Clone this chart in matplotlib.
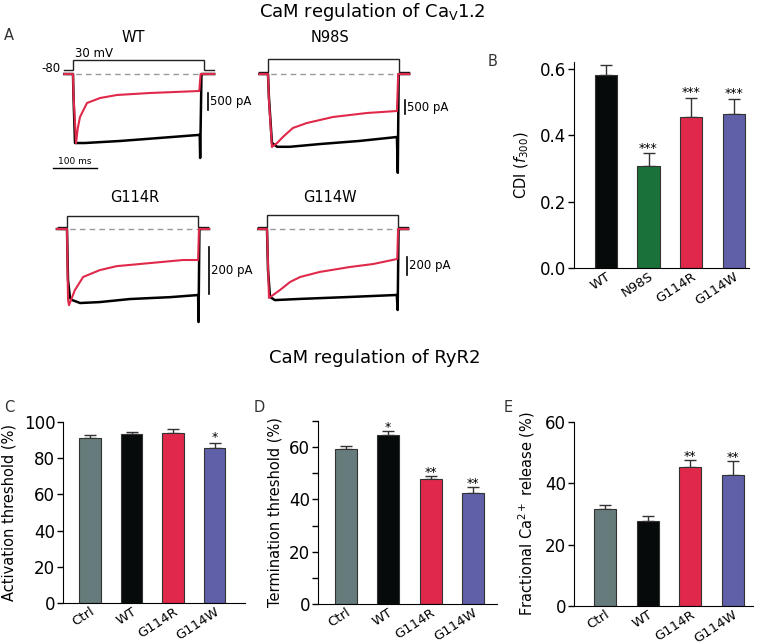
import matplotlib
matplotlib.use('Agg')
import matplotlib.pyplot as plt
from matplotlib.transforms import ScaledTranslation

W, H = 760, 642

# ---------------- panel A: traces (time in ms, current in pA) ----------------
vstep_t = [-20, 0, 0, 300, 300, 323]
vstep_v = [-80, -80, 30, 30, -80, -80]

wt_black_t = [-20, 0, 1, 4.6, 16, 27, 108, 199, 290, 291, 294, 323]
wt_black_i = [0, 0, -600, -2030, -2030, -2030, -1970, -1880, -1790, -2470, 0, 0]
wt_red_t = [-20, 0, 1, 7, 11, 16, 32, 62, 101, 176, 289, 292, 323]
wt_red_i = [0, 0, -600, -2030, -1590, -1265, -853, -706, -617, -559, -500, 0, 0]

n98s_black_t = [-20, 0, 2, 9, 21, 50, 120, 210, 295, 297, 299, 323]
n98s_black_i = [0, 0, -800, -2460, -2600, -2600, -2500, -2390, -2250, -3530, 0, 0]
n98s_red_t = [-20, 0, 2, 9, 21, 34, 57, 89, 149, 227, 295, 298, 323]
n98s_red_i = [0, 0, -900, -2606, -2463, -2250, -1928, -1750, -1535, -1392, -1321, 0, 0]

g114r_black_t = [-23, 0, 2.3, 6.9, 11.4, 30, 75, 144, 236, 300, 301, 303, 325]
g114r_black_i = [0, 0, -217, -294, -302, -315, -311, -298, -290, -281, -396, 0, 0]
g114r_red_t = [-23, 0, 2.3, 4.6, 18, 37, 75, 114, 190, 265, 300, 302, 325]
g114r_red_i = [0, 0, -300, -324, -260, -204, -175, -158, -145, -132, -132, 0, 0]

g114w_black_t = [-20, 0, 2.3, 6.9, 18, 75, 190, 297, 299, 301, 323]
g114w_black_i = [0, 0, -455, -755, -790, -777, -755, -733, -900, 0, 0]
g114w_red_t = [-20, 0, 2.3, 4.6, 14, 30, 53, 76, 121, 190, 243, 298, 300, 323]
g114w_red_i = [0, 0, -400, -766, -733, -677, -588, -533, -477, -422, -389, -333, 0, 0]

# ---------------- bar data ----------------
cdi_labels = ['WT', 'N98S', 'G114R', 'G114W']
cdi_vals = [0.58, 0.308, 0.454, 0.463]
cdi_err = [0.032, 0.038, 0.059, 0.047]
cdi_stars = ['', '***', '***', '***']

ryr_labels = ['Ctrl', 'WT', 'G114R', 'G114W']
act_vals = [91.3, 93.4, 93.9, 85.8]
act_err = [1.6, 0.8, 2.2, 2.8]
act_stars = ['', '', '', '*']
term_vals = [59.4, 64.8, 48.0, 42.4]
term_err = [1.2, 1.2, 1.0, 2.3]
term_stars = ['', '*', '**', '**']
frac_vals = [31.7, 27.7, 45.3, 42.8]
frac_err = [1.1, 1.5, 2.4, 4.4]
frac_stars = ['', '', '**', '**']

cols = {'Ctrl': '#667c7c', 'WT': '#060a0b', 'N98S': '#1a7139',
        'G114R': '#e0294a', 'G114W': '#5f60a8'}
RED = '#e0294a'

fig = plt.figure(figsize=(W / 100, H / 100), dpi=100)


def px_axes(left, top, right, bottom):
    return fig.add_axes([left / W, 1 - bottom / H, (right - left) / W, (bottom - top) / H])


def ftext(x, y, s, **kw):
    fig.text(x / W, 1 - y / H, s, **kw)


def trace_axes(x0, y0, yscale, xlim, ylim, yref=0.0, xscale=0.437):
    # x0, y0: pixel where t=0 / y=yref sits; xscale px per ms; yscale units per px
    left = x0 + xlim[0] * xscale
    right = x0 + xlim[1] * xscale
    top = y0 - (ylim[1] - yref) / yscale
    bottom = y0 - (ylim[0] - yref) / yscale
    ax = px_axes(left, top, right, bottom)
    ax.set_xlim(xlim)
    ax.set_ylim(ylim)
    ax.axis('off')
    return ax


def trace_panel(x0, y0, pa_px, v80_y, v30_y, bt, bi, rt, ri, bar_t, bar_top, bar_len, bar_txt):
    va = trace_axes(x0, v80_y, 110 / (v80_y - v30_y), (-30, 330), (-100, 50), yref=-80)
    va.plot(vstep_t, vstep_v, color='#222222', lw=1.0, solid_joinstyle='miter')
    ia = trace_axes(x0, y0, pa_px, (-30, 330), (-4000, 200))
    ia.plot([-15, 318], [0, 0], color='#999999', lw=1.0, ls=(0, (4, 3)))
    ia.plot(bt, bi, color='black', lw=1.8)
    ia.plot(rt, ri, color=RED, lw=1.5)
    ia.plot([bar_t, bar_t], [bar_top, bar_top - bar_len], color='black', lw=1.2)
    ia.text(bar_t + 4, bar_top - bar_len / 2, bar_txt, fontsize=8.5, va='center', ha='left')
    return ia


wt_ax = trace_panel(73, 74, 500 / 17, 70, 59.5, wt_black_t, wt_black_i, wt_red_t, wt_red_i,
                    309, -560, 500, '500 pA')
trace_panel(268, 74, 500 / 14, 72, 59.5, n98s_black_t, n98s_black_i, n98s_red_t, n98s_red_i,
            313, -930, 500, '500 pA')
trace_panel(67, 229, 200 / 47, 227, 216, g114r_black_t, g114r_black_i, g114r_red_t, g114r_red_i,
            325, -77, 200, '200 pA')
trace_panel(267, 229, 200 / 18, 227, 215, g114w_black_t, g114w_black_i, g114w_red_t, g114w_red_i,
            320, -311, 200, '200 pA')

# 100 ms scale bar
wt_ax.plot([-46, 54], [-2764, -2764], color='black', lw=1.0, clip_on=False)
wt_ax.text(4, -2700, '100 ms', fontsize=6.5, ha='center', va='bottom')

ftext(133.5, 38, 'WT', fontsize=10.5, ha='center', va='center')
ftext(330.5, 38, 'N98S', fontsize=10.5, ha='center', va='center')
ftext(135, 198, 'G114R', fontsize=10.5, ha='center', va='center')
ftext(330, 198, 'G114W', fontsize=10.5, ha='center', va='center')
ftext(75, 53.5, '30 mV', fontsize=8.5, ha='left', va='center')
ftext(60, 69, '-80', fontsize=8.5, ha='right', va='center')

ftext(372, 12, r'CaM regulation of Ca$_\mathregular{V}$1.2', fontsize=13, ha='center', va='center')
ftext(375, 358, 'CaM regulation of RyR2', fontsize=13, ha='center', va='center')

for lab, x, y in [('A', 4, 36), ('B', 488, 62), ('C', 4, 408), ('D', 254, 408), ('E', 504, 408)]:
    ftext(x, y, lab, fontsize=10.5, ha='left', va='center', color='#333333')


# ---------------- bar panels ----------------
def bar_panel(box, labels, vals, errs, stars, ylim, yticks, ylabel, label_x, xlim,
              minor=None, star_off=0.0):
    ax = px_axes(*box)
    x = list(range(len(labels)))
    ax.bar(x, vals, width=0.52, color=[cols[l] for l in labels], edgecolor='#333333',
           linewidth=0.8, zorder=2)
    ax.errorbar(x, vals, yerr=[[0] * len(vals), errs], fmt='none', ecolor='#333333',
                elinewidth=1.0, capsize=4, capthick=1.0, zorder=1)
    for xi, v, e, s in zip(x, vals, errs, stars):
        if s:
            ax.text(xi, v + e + star_off, s, ha='center', va='bottom', fontsize=9)
    ax.set_xlim(xlim)
    ax.set_ylim(ylim)
    ax.set_yticks(yticks)
    if minor is not None:
        ax.set_yticks(minor, minor=True)
        ax.tick_params(axis='y', which='minor', length=4, width=1)
    ax.set_xticks(x)
    ax.set_xticklabels(labels, rotation=33, ha='right', rotation_mode='anchor')
    shift = ScaledTranslation(8 / 100, 0, fig.dpi_scale_trans)
    for t in ax.get_xticklabels():
        t.set_transform(t.get_transform() + shift)
    ax.tick_params(axis='x', length=0, labelsize=9.5, pad=1.5)
    ax.tick_params(axis='y', length=4, width=1, labelsize=12, pad=1.5)
    ax.spines['top'].set_visible(False)
    ax.spines['right'].set_visible(False)
    ax.set_ylabel(ylabel, fontsize=10.5)
    ax.yaxis.set_label_coords((label_x - box[0]) / (box[2] - box[0]), 0.5)
    return ax


axB = bar_panel((574, 62, 749, 268), cdi_labels, cdi_vals, cdi_err, cdi_stars, (0, 0.62),
                [0.0, 0.2, 0.4, 0.6], r'CDI ($f_{300}$)', 531, (-0.75, 3.36), star_off=-0.005)
axB.set_yticklabels(['0.0', '0.2', '0.4', '0.6'])

bar_panel((63, 422, 245, 603), ryr_labels, act_vals, act_err, act_stars, (0, 100),
          [0, 20, 40, 60, 80, 100], 'Activation threshold (%)', 17, (-0.65, 3.73), star_off=-1)

bar_panel((318, 421, 497, 604), ryr_labels, term_vals, term_err, term_stars, (0, 70),
          [0, 20, 40, 60], 'Termination threshold (%)', 282, (-0.66, 3.57),
          minor=[10, 30, 50, 70], star_off=-1)

bar_panel((574, 422, 753, 606), ryr_labels, frac_vals, frac_err, frac_stars, (0, 60),
          [0, 20, 40, 60], r'Fractional Ca$^{2+}$ release (%)', 537, (-0.73, 3.48), star_off=-1)

fig.savefig('out.png', dpi=100)
